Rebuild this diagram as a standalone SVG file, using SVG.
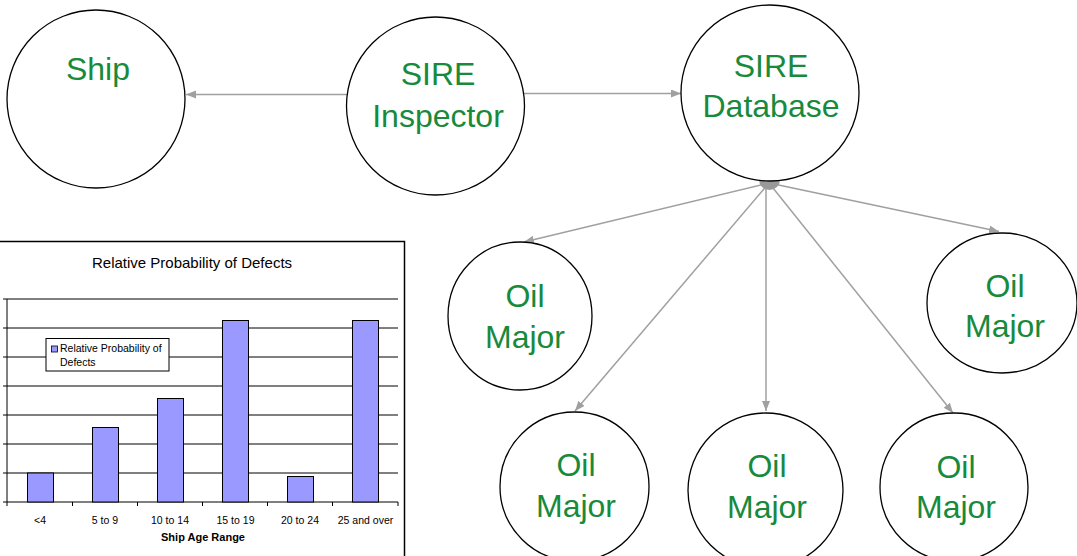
<svg xmlns="http://www.w3.org/2000/svg" width="1077" height="556" viewBox="0 0 1077 556">
<defs>
<style>
.node{fill:#fff;stroke:#000;stroke-width:1.3}
.lbl{font-family:"Liberation Sans",Arial,sans-serif;font-size:32px;fill:#178a3c;text-anchor:middle}
.con{stroke:#a0a0a0;stroke-width:1.5;fill:none;marker-end:url(#ah)}
.grid{stroke:#000;stroke-width:1}
.bar{fill:#9999ff;stroke:#000;stroke-width:1}
.ct{font-family:"Liberation Sans",Arial,sans-serif;fill:#000}
</style>
<marker id="ah" markerUnits="userSpaceOnUse" markerWidth="11" markerHeight="9" refX="10" refY="4" orient="auto">
<path d="M0,0 L10,4 L0,8 Z" fill="#a0a0a0"/>
</marker>
</defs>
<rect width="1077" height="556" fill="#fff"/>

<g id="chart">
<rect x="-2" y="241.5" width="406.5" height="320" fill="#fff" stroke="#000" stroke-width="1.5"/>
<text class="ct" x="192" y="268" font-size="15" text-anchor="middle">Relative Probability of Defects</text>
<g class="grid">
<line x1="3" y1="299" x2="398" y2="299"/>
<line x1="3" y1="328" x2="398" y2="328"/>
<line x1="3" y1="357" x2="398" y2="357"/>
<line x1="3" y1="386" x2="398" y2="386"/>
<line x1="3" y1="415" x2="398" y2="415"/>
<line x1="3" y1="444" x2="398" y2="444"/>
<line x1="3" y1="473" x2="398" y2="473"/>
<line x1="3" y1="502" x2="398" y2="502"/>
<line x1="7" y1="299" x2="7" y2="506"/>
<line x1="72.5" y1="502" x2="72.5" y2="506"/>
<line x1="137.5" y1="502" x2="137.5" y2="506"/>
<line x1="202.5" y1="502" x2="202.5" y2="506"/>
<line x1="267.5" y1="502" x2="267.5" y2="506"/>
<line x1="332.5" y1="502" x2="332.5" y2="506"/>
<line x1="398" y1="502" x2="398" y2="506"/>
</g>
<rect class="bar" x="27.5" y="473" width="26" height="29"/>
<rect class="bar" x="92.5" y="427.5" width="26" height="74.5"/>
<rect class="bar" x="157.5" y="398.5" width="26" height="103.5"/>
<rect class="bar" x="222.5" y="320.5" width="26" height="181.5"/>
<rect class="bar" x="287.5" y="476.5" width="26" height="25.5"/>
<rect class="bar" x="352.5" y="320.5" width="26" height="181.5"/>
<rect x="46" y="338.5" width="123" height="32.5" fill="#fff" stroke="#000" stroke-width="1"/>
<rect x="51.5" y="346" width="6" height="6" fill="#9999ff" stroke="#000" stroke-width="0.8"/>
<text class="ct" x="60" y="352" font-size="10.5">Relative Probability of</text>
<text class="ct" x="60" y="366" font-size="10.5">Defects</text>
<g font-size="10.5" text-anchor="middle">
<text class="ct" x="40" y="524">&lt;4</text>
<text class="ct" x="105" y="524">5 to 9</text>
<text class="ct" x="170" y="524">10 to 14</text>
<text class="ct" x="235.5" y="524">15 to 19</text>
<text class="ct" x="300" y="524">20 to 24</text>
<text class="ct" x="365.5" y="524">25 and over</text>
</g>
<text class="ct" x="203" y="541" font-size="11" font-weight="bold" text-anchor="middle">Ship Age Range</text>
</g>

<g id="connectors">
<line class="con" x1="354" y1="94.5" x2="186" y2="94.5"/>
<line class="con" x1="522" y1="93.5" x2="681" y2="93.5"/>
<line class="con" x1="769" y1="183" x2="524" y2="242"/>
<line class="con" x1="769" y1="183" x2="999" y2="231.5"/>
<line class="con" x1="769" y1="183" x2="575" y2="411"/>
<line class="con" x1="766" y1="183" x2="766" y2="411"/>
<line class="con" x1="769" y1="183" x2="953" y2="413"/>
<path d="M759,180 A10.5,10 0 0 0 780,180 Z" fill="#999"/>
</g>

<g id="ship">
<circle class="node" cx="96" cy="99" r="89"/>
<text class="lbl" x="98" y="80">Ship</text>
</g>
<g id="sire-inspector">
<circle class="node" cx="435.5" cy="106" r="89"/>
<text class="lbl" x="438" y="85">SIRE</text>
<text class="lbl" x="438" y="127">Inspector</text>
</g>
<g id="sire-database">
<ellipse class="node" cx="770" cy="93" rx="89" ry="88"/>
<text class="lbl" x="771" y="77">SIRE</text>
<text class="lbl" x="771" y="117">Database</text>
</g>
<g id="oil-major-1">
<ellipse class="node" cx="520" cy="316" rx="72" ry="74"/>
<text class="lbl" x="525" y="307">Oil</text>
<text class="lbl" x="525" y="348">Major</text>
</g>
<g id="oil-major-2">
<ellipse class="node" cx="1002" cy="303" rx="75" ry="70"/>
<text class="lbl" x="1005" y="297">Oil</text>
<text class="lbl" x="1005" y="337">Major</text>
</g>
<g id="oil-major-3">
<circle class="node" cx="574.5" cy="486.5" r="74.5"/>
<text class="lbl" x="576" y="476">Oil</text>
<text class="lbl" x="576" y="517">Major</text>
</g>
<g id="oil-major-4">
<circle class="node" cx="765.5" cy="490.5" r="77.5"/>
<text class="lbl" x="767" y="477">Oil</text>
<text class="lbl" x="767" y="518">Major</text>
</g>
<g id="oil-major-5">
<circle class="node" cx="954" cy="487" r="74"/>
<text class="lbl" x="956" y="478">Oil</text>
<text class="lbl" x="956" y="518">Major</text>
</g>
</svg>
